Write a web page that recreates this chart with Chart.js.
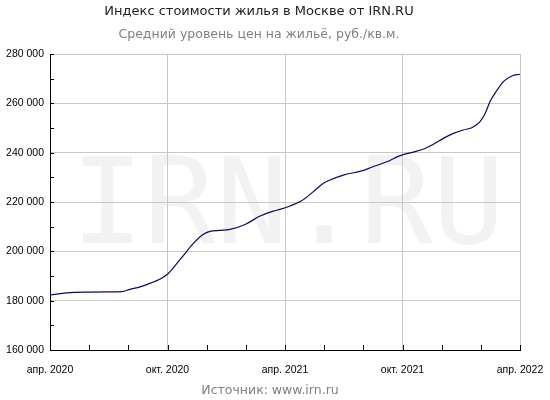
<!DOCTYPE html>
<html>
<head>
<meta charset="utf-8">
<script src="https://cdn.jsdelivr.net/npm/chart.js@4"></script>
<style>
html,body{margin:0;padding:0;background:#fff;}
#wrap{width:550px;height:400px;position:relative;}
</style>
</head>
<body>
<div id="wrap"><canvas id="c" width="550" height="400"></canvas></div>
<script>
const titleText = 'Индекс стоимости жилья в Москве от IRN.RU';
const subtitleText = 'Средний уровень цен на жильё, руб./кв.м.';
const footerText = 'Источник: www.irn.ru';
const watermarkText = 'IRN.RU';

// months since April 2020
const monthOffsets = [0, 1.0, 2.0, 3.0, 3.66, 4.09, 4.6, 5.1, 5.6, 6.04, 6.47, 6.9, 7.32, 7.83, 8.17, 8.68, 9.19, 9.96, 10.73, 11.4, 11.75, 12.26, 12.85, 13.45, 13.96, 14.3, 14.98, 15.92, 16.43, 17.2, 17.88, 18.64, 19.15, 19.58, 20.09, 20.6, 21.1, 21.54, 21.96, 22.22, 22.47, 22.81, 23.15, 23.58, 24];
const prices = [182300, 183300, 183500, 183600, 183700, 184600, 185600, 187000, 188700, 191000, 195000, 199200, 203200, 206900, 208100, 208500, 208900, 210900, 214300, 216300, 217000, 218400, 220500, 224200, 227600, 228900, 230900, 232600, 234100, 236300, 238800, 240400, 241700, 243400, 245800, 247800, 249200, 250100, 252600, 255900, 260700, 265100, 268800, 271100, 271800];

const xTickLabels = {0: 'апр. 2020', 6: 'окт. 2020', 12: 'апр. 2021', 18: 'окт. 2021', 24: 'апр. 2022'};
const yMin = 160000, yMax = 280000, yStep = 20000, yMinorStep = 10000;
const xMin = 0, xMax = 24, xStep = 2, xMajor = 6;

const points = monthOffsets.map((m, i) => ({x: m, y: prices[i]}));

const decor = {
  id: 'decor',
  beforeDraw(chart) {
    const {ctx} = chart;
    ctx.save();
    ctx.fillStyle = '#f2f2f2';
    ctx.font = '120px "DejaVu Sans Mono"';
    ctx.textAlign = 'center';
    ctx.textBaseline = 'alphabetic';
    ctx.fillText(watermarkText, 288, 243);
    ctx.restore();
  },
  afterDatasetsDraw(chart) {
    const {ctx, chartArea: a, scales} = chart;
    ctx.save();
    ctx.strokeStyle = '#000';
    ctx.lineWidth = 1;
    ctx.beginPath();
    for (let v = xMin; v <= xMax; v += xStep) {
      const px = Math.round(scales.x.getPixelForValue(v)) + 0.5;
      ctx.moveTo(px, a.bottom);
      ctx.lineTo(px, a.bottom - 5);
    }
    for (let v = yMin; v <= yMax; v += yMinorStep) {
      const py = Math.round(scales.y.getPixelForValue(v)) + 0.5;
      ctx.moveTo(a.left, py);
      ctx.lineTo(a.left + 4, py);
    }
    ctx.stroke();
    ctx.restore();
  },
  afterDraw(chart) {
    const {ctx} = chart;
    ctx.save();
    ctx.textAlign = 'center';
    ctx.textBaseline = 'middle';
    ctx.font = '13px "DejaVu Sans"';
    ctx.fillStyle = '#222';
    ctx.fillText(titleText, 259, 12);
    ctx.font = '12.5px "DejaVu Sans"';
    ctx.fillStyle = '#808080';
    ctx.fillText(subtitleText, 259, 35);
    ctx.fillText(footerText, 270, 391);
    ctx.restore();
  }
};

new Chart(document.getElementById('c'), {
  type: 'line',
  data: {
    datasets: [{
      data: points,
      borderColor: '#0b0b55',
      borderWidth: 1.2,
      pointRadius: 0,
      fill: false,
      cubicInterpolationMode: 'monotone'
    }]
  },
  options: {
    responsive: false,
    animation: false,
    devicePixelRatio: 1,
    layout: {padding: {top: 54, right: 30, bottom: 0, left: 0}},
    plugins: {legend: {display: false}, tooltip: {enabled: false}, title: {display: false}},
    scales: {
      x: {
        type: 'linear', min: xMin, max: xMax,
        afterFit(s) { s.height = 50; s.paddingLeft = 0; s.paddingRight = 0; },
        ticks: {
          stepSize: xStep, autoSkip: false, maxRotation: 0,
          padding: 14,
          color: '#000',
          font: {family: 'Liberation Sans', size: 10.5},
          callback: (v) => xTickLabels[v] !== undefined ? xTickLabels[v] : ''
        },
        grid: {
          drawTicks: false,
          color: (c) => (c.tick && c.tick.value % xMajor === 0) ? '#c8c8c8' : 'rgba(0,0,0,0)',
          lineWidth: 1
        },
        border: {display: true, color: '#000', width: 1}
      },
      y: {
        min: yMin, max: yMax,
        afterFit(s) { s.width = 50; s.paddingTop = 0; s.paddingBottom = 0; },
        ticks: {
          stepSize: yStep,
          padding: 6,
          color: '#000',
          font: {family: 'Liberation Sans', size: 10.5},
          callback: (v) => String(v).replace(/\B(?=(\d{3})+(?!\d))/g, ' ')
        },
        grid: {drawTicks: false, color: '#c8c8c8', lineWidth: 1},
        border: {display: true, color: '#000', width: 1}
      }
    }
  },
  plugins: [decor]
});
</script>
</body>
</html>
